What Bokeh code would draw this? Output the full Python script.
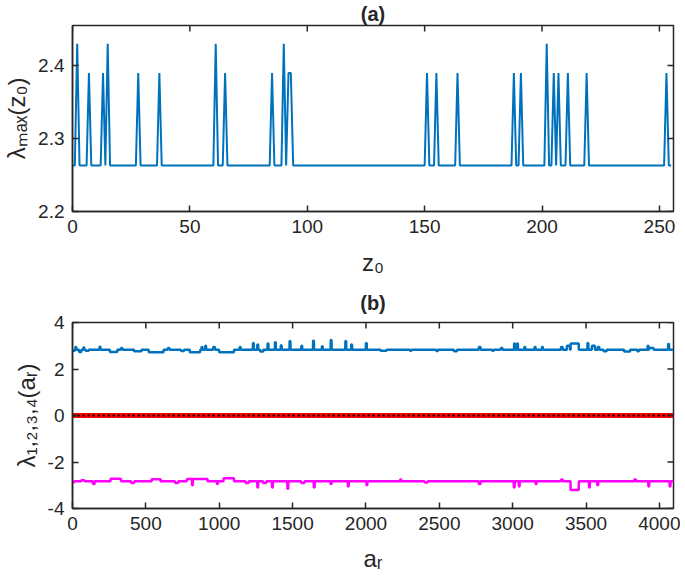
import math
from bokeh.plotting import figure
from bokeh.models import Range1d, FixedTicker, Title
from bokeh.layouts import column
from bokeh.embed import file_html
from bokeh.resources import INLINE

# ---------------- data: panel (a) ----------------
z0 = list(range(256))
lam_base = 2.263
peak_hi_z = [2, 15, 61, 90, 202]
peak_hi_val = 2.43
peak_lo_z = [7, 13, 28, 37, 65, 85, 92, 93, 151, 155, 164, 188, 191, 205, 207, 211, 219, 253]
peak_lo_val = 2.39

lam_max = [lam_base] * len(z0)
for z in peak_hi_z:
    lam_max[z] = peak_hi_val
for z in peak_lo_z:
    lam_max[z] = peak_lo_val

a_xticks = [0, 50, 100, 150, 200, 250]
a_yticks = [2.2, 2.3, 2.4]
a_ylabels = ["2.2", "2.3", "2.4"]

# ---------------- data: panel (b) ----------------
ar = list(range(1, 4097))
blue_base = 2.83
# (start a_r, end a_r, value)
blue_events = [
    (1, 15, 2.78), (20, 25, 2.95), (45, 60, 2.73), (75, 80, 2.93), (90, 110, 2.78),
    (185, 190, 2.96), (255, 305, 2.73), (330, 340, 2.9), (420, 470, 2.76),
    (520, 620, 2.72), (650, 660, 2.9), (740, 760, 2.77), (800, 870, 2.72),
    (880, 885, 2.95), (905, 910, 3.0), (960, 970, 2.95), (1000, 1100, 2.72),
    (1140, 1145, 2.95), (1230, 1235, 3.12), (1260, 1265, 3.05), (1280, 1300, 2.75),
    (1330, 1335, 3.1), (1380, 1385, 3.15), (1420, 1425, 3.02), (1480, 1485, 3.2),
    (1560, 1565, 3.0), (1640, 1645, 3.22), (1700, 1705, 2.98), (1760, 1765, 3.25),
    (1860, 1865, 3.2), (1900, 1905, 3.05), (2000, 2005, 3.12), (2100, 2140, 2.78),
    (2300, 2310, 2.78), (2480, 2490, 2.77), (2600, 2620, 2.76), (2770, 2780, 2.95),
    (2860, 2870, 2.78), (2920, 2930, 2.9), (3010, 3015, 3.1), (3030, 3035, 3.1),
    (3080, 3085, 2.95), (3150, 3155, 2.95), (3200, 3205, 2.95), (3330, 3340, 2.95),
    (3370, 3390, 3.0), (3395, 3450, 3.1), (3510, 3515, 3.12), (3540, 3560, 3.0),
    (3580, 3590, 2.95), (3620, 3640, 2.76), (3760, 3800, 2.75), (3850, 3860, 2.76),
    (3920, 3925, 3.0), (3930, 3960, 2.9), (4060, 4065, 3.08),
]
mag_base = -2.83
mag_events = [
    (1, 10, -2.88), (60, 80, -2.78), (140, 150, -2.95), (260, 330, -2.72),
    (400, 420, -2.9), (540, 600, -2.74), (700, 720, -2.9), (780, 920, -2.73),
    (815, 820, -3.0), (985, 990, -2.95), (1030, 1100, -2.7), (1180, 1200, -2.9),
    (1260, 1265, -3.1), (1300, 1320, -2.9), (1360, 1365, -3.1), (1465, 1470, -3.15),
    (1560, 1580, -2.9), (1645, 1650, -3.1), (1760, 1765, -2.95), (1877, 1882, -3.05),
    (2004, 2009, -3.0), (2234, 2240, -2.75), (2400, 2420, -2.88), (2770, 2780, -2.95),
    (3008, 3013, -3.1), (3042, 3047, -3.05), (3157, 3162, -2.95), (3330, 3340, -2.75),
    (3395, 3450, -3.2), (3520, 3525, -3.1), (3577, 3582, -3.0), (3830, 3840, -2.75),
    (3925, 3930, -3.05), (4070, 4075, -3.05),
]
lam_blue = [blue_base] * len(ar)
for s, e, v in blue_events:
    for i in range(s - 1, e):
        lam_blue[i] = v
lam_mag = [mag_base] * len(ar)
for s, e, v in mag_events:
    for i in range(s - 1, e):
        lam_mag[i] = v
lam_zero = [0.0] * len(ar)

b_xticks = [0, 500, 1000, 1500, 2000, 2500, 3000, 3500, 4000]
b_yticks = [-4, -2, 0, 2, 4]
b_ylabels = ["-4", "-2", "0", "2", "4"]

# ---------------- styling ----------------
FONT = "Liberation Sans"
INK = "#262626"
W = 680
LEFT = 72
FW = 601
FH = 187


def style(p, xticks, yticks, ylabels, xlabel, ylabel, ystand, xstand):
    p.xgrid.visible = False
    p.ygrid.visible = False
    p.outline_line_color = INK
    p.outline_line_width = 1.5
    xa = p.xaxis[0]
    ya = p.yaxis[0]
    xa.ticker = FixedTicker(ticks=xticks)
    ya.ticker = FixedTicker(ticks=yticks)
    ya.major_label_overrides = {t: l for t, l in zip(yticks, ylabels)}
    xa.major_label_overrides = {t: str(t) for t in xticks}
    for ax in (xa, ya):
        ax.major_label_text_font = FONT
        ax.major_label_text_font_size = "19px"
        ax.major_label_text_color = INK
        ax.major_label_standoff = 8
        ax.major_tick_in = 6
        ax.major_tick_out = 0
        ax.minor_tick_line_color = None
        ax.axis_line_color = INK
        ax.axis_line_width = 1.5
        ax.major_tick_line_color = INK
        ax.major_tick_line_width = 1.5
        ax.axis_label_text_font = FONT
        ax.axis_label_text_font_size = "24px"
        ax.axis_label_text_font_style = "normal"
        ax.axis_label_text_color = INK
    xa.axis_label = xlabel
    ya.axis_label = ylabel
    xa.axis_label_standoff = xstand
    ya.axis_label_standoff = ystand
    # mirrored inward ticks on the top and right edges of the box
    xr, yr = p.x_range, p.y_range
    p.ray(x=xticks, y=[yr.end] * len(xticks), length=6, length_units="screen",
          angle=-math.pi / 2, line_color=INK, line_width=1.5)
    p.ray(x=[xr.end] * len(yticks), y=yticks, length=6, length_units="screen",
          angle=math.pi, line_color=INK, line_width=1.5)


def add_title(p, text, size, standoff):
    p.add_layout(Title(text=text, align="center", text_font=FONT, text_font_size=size,
                       text_font_style="bold", text_color=INK, standoff=standoff), "above")


# ---------------- panel (a) ----------------
TOP1 = 24
TOP2 = 40
H1 = 321 - TOP2
pa = figure(width=W, height=H1, x_range=Range1d(0, 256), y_range=Range1d(2.2, 2.455),
            output_backend="svg", toolbar_location=None,
            min_border_left=LEFT, min_border_right=W - LEFT - FW,
            min_border_top=TOP1, min_border_bottom=H1 - TOP1 - FH)
pa.line(z0, lam_max, line_color="#0072BD", line_width=2)
style(pa, a_xticks, a_yticks, a_ylabels, "z₀", "λₘₐₓ(z₀)", 5, 13)
add_title(pa, "(a)", "20px", 1)

# ---------------- panel (b) ----------------
H2 = 577 - H1
pb = figure(width=W, height=H2, x_range=Range1d(0, 4096), y_range=Range1d(-4, 4),
            output_backend="svg", toolbar_location=None,
            min_border_left=LEFT, min_border_right=W - LEFT - FW,
            min_border_top=TOP2, min_border_bottom=H2 - TOP2 - FH)
pb.line(ar, lam_blue, line_color="#0072BD", line_width=2.5)
pb.line(ar, lam_mag, line_color="#FF00FF", line_width=2.5)
pb.line(ar, lam_zero, line_color="#FF0000", line_width=5)
pb.line(ar, lam_zero, line_color="black", line_width=2, line_dash="2 3")
style(pb, b_xticks, b_yticks, b_ylabels, "aᵣ", "λ₁,₂,₃,₄(aᵣ)", 5, 12)
add_title(pb, "(b)", "20px", 17)

layout = column(pa, pb, spacing=0)
open("out.html", "w").write(file_html(layout, INLINE))
